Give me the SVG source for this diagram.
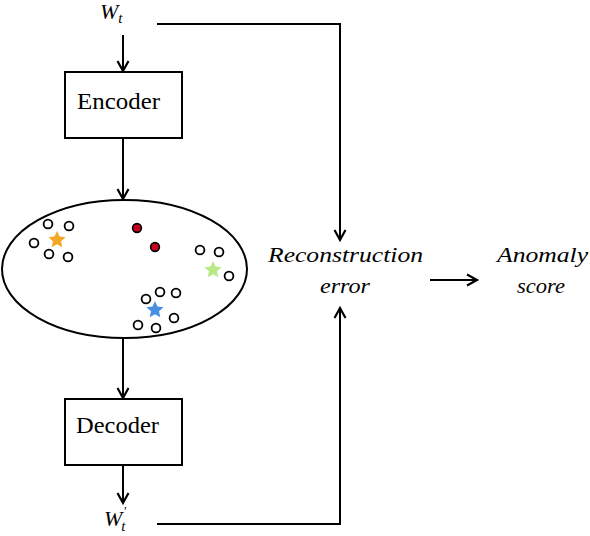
<svg xmlns="http://www.w3.org/2000/svg" width="590" height="536" viewBox="0 0 590 536">
<defs>
<style>
.box{fill:#fff;stroke:#000;stroke-width:2}
.ln{fill:none;stroke:#000;stroke-width:2}
.lbl{font-family:"Liberation Serif",serif;font-size:23px;fill:#000}
.it{font-family:"Liberation Serif",serif;font-style:italic;font-size:22px;fill:#000}
.pt{fill:#fff;stroke:#000;stroke-width:1.8}
.red{fill:#c8001e;stroke:#000;stroke-width:1.6}
</style>
<marker id="arr" markerWidth="14" markerHeight="16" refX="11" refY="7" orient="auto" markerUnits="userSpaceOnUse">
<path d="M1,1.5 L11,7 L1,12.5" fill="none" stroke="#000" stroke-width="2.2"/>
</marker>
</defs>
<rect width="590" height="536" fill="#fff"/>
<g id="connectors">
<line class="ln" x1="123" y1="35" x2="123" y2="71" marker-end="url(#arr)"/>
<line class="ln" x1="123" y1="138" x2="123" y2="199" marker-end="url(#arr)"/>
<line class="ln" x1="123" y1="338" x2="123" y2="398" marker-end="url(#arr)"/>
<line class="ln" x1="123" y1="465" x2="123" y2="503" marker-end="url(#arr)"/>
<polyline class="ln" points="157,24 340,24 340,240" marker-end="url(#arr)"/>
<polyline class="ln" points="157,524 340,524 340,308" marker-end="url(#arr)"/>
<line class="ln" x1="430" y1="280" x2="477" y2="280" marker-end="url(#arr)"/>
</g>
<g id="wt">
<text class="it" x="100" y="19" font-size="21">W<tspan font-size="15" dy="4">t</tspan></text>
</g>
<g id="encoder">
<rect class="box" x="65" y="72" width="117" height="66"/>
<text class="lbl" x="77" y="109" textLength="83" lengthAdjust="spacingAndGlyphs">Encoder</text>
</g>
<g id="latent">
<ellipse cx="124.5" cy="269" rx="122.5" ry="69" fill="#fff" stroke="#000" stroke-width="2"/>
<circle class="pt" cx="48" cy="224" r="4.4"/>
<circle class="pt" cx="69" cy="226" r="4.4"/>
<circle class="pt" cx="34" cy="243" r="4.4"/>
<circle class="pt" cx="49" cy="254" r="4.4"/>
<circle class="pt" cx="68" cy="257" r="4.4"/>
<circle class="red" cx="137" cy="228" r="4.4"/>
<circle class="red" cx="155" cy="247" r="4.4"/>
<circle class="pt" cx="200" cy="250" r="4.4"/>
<circle class="pt" cx="219" cy="252" r="4.4"/>
<circle class="pt" cx="229" cy="276" r="4.4"/>
<circle class="pt" cx="146" cy="299" r="4.4"/>
<circle class="pt" cx="160" cy="292" r="4.4"/>
<circle class="pt" cx="176" cy="293" r="4.4"/>
<circle class="pt" cx="174" cy="318" r="4.4"/>
<circle class="pt" cx="138" cy="325" r="4.4"/>
<circle class="pt" cx="156" cy="328" r="4.4"/>
<polygon fill="#f5a623" points="57,231 59.5,236.6 65.6,237.2 61,241.3 62.3,247.3 57,244.2 51.7,247.3 53,241.3 48.4,237.2 54.5,236.6"/>
<polygon fill="#b8e986" points="213,261 215.5,266.6 221.6,267.2 217,271.3 218.3,277.3 213,274.2 207.7,277.3 209,271.3 204.4,267.2 210.5,266.6"/>
<polygon fill="#4a90e2" points="155,301 157.5,306.6 163.6,307.2 159,311.3 160.3,317.3 155,314.2 149.7,317.3 151,311.3 146.4,307.2 152.5,306.6"/>
</g>
<g id="decoder">
<rect class="box" x="65" y="399" width="117" height="66"/>
<text class="lbl" x="76" y="433" textLength="83" lengthAdjust="spacingAndGlyphs">Decoder</text>
</g>
<g id="wtprime">
<text class="it" x="104" y="526" font-size="21">W<tspan font-size="13" dx="1" dy="-11">′</tspan><tspan font-size="15" dx="-5" dy="16">t</tspan></text>
</g>
<g id="recon">
<text class="it" x="268" y="262" textLength="155" lengthAdjust="spacingAndGlyphs">Reconstruction</text>
<text class="it" x="320" y="293" textLength="50" lengthAdjust="spacingAndGlyphs">error</text>
</g>
<g id="anomaly">
<text class="it" x="497" y="262" textLength="91" lengthAdjust="spacingAndGlyphs">Anomaly</text>
<text class="it" x="517" y="293" textLength="48" lengthAdjust="spacingAndGlyphs">score</text>
</g>
</svg>
